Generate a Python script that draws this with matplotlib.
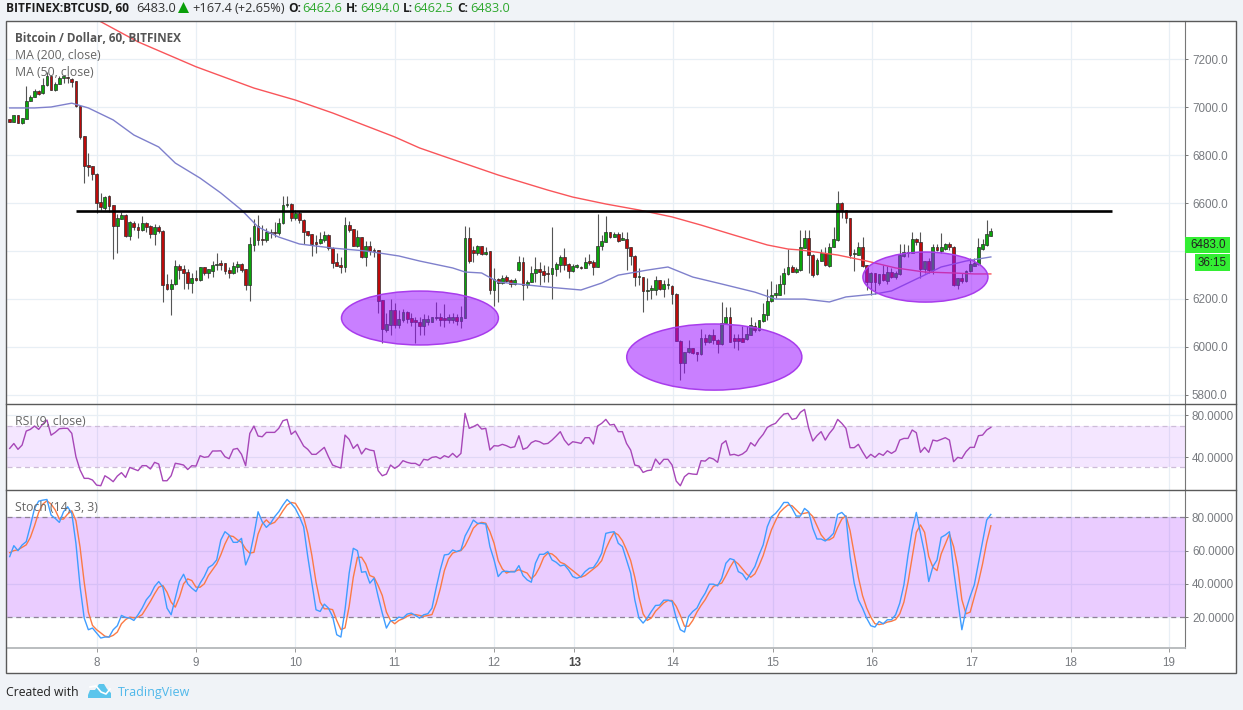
import matplotlib
matplotlib.use('Agg')
from matplotlib import pyplot as plt
from matplotlib.colors import to_rgba
from matplotlib.patches import Ellipse, Polygon, Rectangle

plt.rcParams['font.family'] = ['Open Sans', 'DejaVu Sans']

# hourly candles
candle_open = [
    6949, 6939, 6966, 6935, 6952, 7026, 7044, 7069, 7058, 7091,
    7130, 7071, 7097, 7124, 7125, 7119, 7109, 7005, 6879, 6757,
    6754, 6723, 6604, 6579, 6629, 6590, 6505, 6534, 6552, 6463,
    6517, 6502, 6488, 6516, 6503, 6472, 6498, 6485, 6260, 6241,
    6260, 6339, 6323, 6312, 6267, 6283, 6278, 6331, 6310, 6316,
    6342, 6348, 6348, 6320, 6306, 6331, 6344, 6323, 6257, 6424,
    6504, 6447, 6445, 6475, 6476, 6473, 6515, 6590, 6598, 6537,
    6557, 6531, 6483, 6469, 6434, 6434, 6445, 6466, 6413, 6353,
    6341, 6332, 6508, 6490, 6422, 6457, 6376, 6422, 6403, 6404,
    6195, 6070, 6091, 6153, 6091, 6112, 6146, 6119, 6107, 6105,
    6087, 6102, 6105, 6120, 6123, 6121, 6110, 6112, 6125, 6109,
    6121, 6453, 6403, 6390, 6419, 6387, 6398, 6237, 6281, 6266,
    6290, 6280, 6262, 6321, 6353, 6258, 6272, 6307, 6323, 6316,
    6307, 6304, 6325, 6341, 6373, 6346, 6316, 6335, 6332, 6330,
    6355, 6353, 6334, 6422, 6439, 6478, 6460, 6470, 6447, 6449,
    6415, 6380, 6290, 6290, 6234, 6239, 6237, 6277, 6241, 6256,
    6254, 6221, 6025, 5933, 5977, 5993, 5977, 5969, 6035, 6021,
    6047, 6030, 6011, 6100, 6125, 6035, 6035, 6035, 6032, 6050,
    6086, 6069, 6106, 6131, 6189, 6218, 6218, 6261, 6303, 6334,
    6312, 6320, 6413, 6452, 6385, 6303, 6358, 6392, 6338, 6417,
    6445, 6602, 6570, 6536, 6386, 6385, 6415, 6340, 6271, 6306,
    6268, 6303, 6275, 6314, 6292, 6303, 6380, 6392, 6392, 6451,
    6438, 6323, 6356, 6320, 6415, 6401, 6410, 6427, 6417, 6257,
    6285, 6275, 6316, 6339, 6345, 6410, 6424, 6462.6]
candle_high = [
    6951, 6968, 6968, 6953, 7088, 7053, 7078, 7071, 7120, 7145,
    7132, 7106, 7130, 7130, 7130, 7124, 7111, 7007, 6881, 6807,
    6756, 6725, 6640, 6629, 6632, 6592, 6556, 6563, 6554, 6526,
    6526, 6515, 6545, 6522, 6508, 6512, 6508, 6487, 6302, 6281,
    6362, 6345, 6341, 6323, 6309, 6320, 6333, 6333, 6325, 6359,
    6390, 6364, 6350, 6331, 6355, 6359, 6350, 6325, 6459, 6532,
    6550, 6508, 6494, 6490, 6522, 6536, 6629, 6630, 6600, 6570,
    6568, 6533, 6485, 6471, 6466, 6480, 6484, 6470, 6415, 6390,
    6376, 6540, 6526, 6492, 6487, 6460, 6443, 6443, 6414, 6406,
    6197, 6139, 6198, 6181, 6153, 6156, 6148, 6139, 6125, 6125,
    6137, 6133, 6125, 6188, 6139, 6178, 6137, 6142, 6137, 6171,
    6504, 6499, 6421, 6425, 6421, 6415, 6400, 6327, 6286, 6299,
    6300, 6282, 6286, 6380, 6376, 6279, 6339, 6373, 6355, 6341,
    6339, 6502, 6355, 6383, 6411, 6348, 6344, 6344, 6339, 6376,
    6386, 6362, 6553, 6467, 6546, 6480, 6481, 6478, 6481, 6481,
    6417, 6382, 6327, 6292, 6286, 6258, 6297, 6279, 6279, 6289,
    6257, 6223, 6027, 5980, 6028, 5995, 5979, 6076, 6055, 6055,
    6076, 6032, 6185, 6167, 6167, 6055, 6053, 6086, 6086, 6125,
    6104, 6113, 6181, 6243, 6275, 6264, 6299, 6330, 6410, 6341,
    6331, 6487, 6487, 6487, 6387, 6369, 6410, 6417, 6434, 6500,
    6650, 6604, 6572, 6538, 6410, 6438, 6459, 6342, 6313, 6308,
    6305, 6341, 6337, 6327, 6317, 6429, 6429, 6424, 6480, 6453,
    6480, 6356, 6369, 6431, 6431, 6473, 6434, 6438, 6419, 6289,
    6306, 6320, 6369, 6369, 6452, 6448, 6529, 6494]
candle_low = [
    6937, 6937, 6933, 6928, 6950, 7024, 7042, 7053, 7056, 7089,
    7072, 7069, 7095, 7102, 7102, 7085, 7003, 6868, 6684, 6712,
    6696, 6559, 6570, 6570, 6563, 6367, 6391, 6532, 6459, 6444,
    6487, 6455, 6484, 6480, 6455, 6424, 6473, 6188, 6235, 6132,
    6258, 6281, 6241, 6243, 6225, 6274, 6276, 6299, 6285, 6292,
    6320, 6320, 6303, 6288, 6304, 6313, 6313, 6236, 6190, 6399,
    6424, 6424, 6438, 6455, 6459, 6466, 6512, 6584, 6526, 6529,
    6515, 6431, 6462, 6378, 6390, 6431, 6438, 6406, 6327, 6336,
    6309, 6313, 6481, 6420, 6418, 6369, 6337, 6383, 6376, 6139,
    6017, 6063, 6049, 6077, 6077, 6105, 6098, 6087, 6014, 6049,
    6049, 6091, 6103, 6112, 6087, 6084, 6098, 6101, 6091, 6077,
    6119, 6348, 6355, 6383, 6383, 6385, 6219, 6170, 6188, 6261,
    6269, 6251, 6258, 6318, 6195, 6244, 6269, 6272, 6258, 6272,
    6272, 6199, 6297, 6314, 6320, 6289, 6314, 6327, 6323, 6327,
    6341, 6300, 6332, 6404, 6437, 6453, 6458, 6439, 6444, 6321,
    6341, 6254, 6258, 6144, 6195, 6199, 6216, 6237, 6209, 6243,
    6177, 6023, 5863, 5891, 5972, 5970, 5941, 5967, 6007, 6014,
    6011, 5975, 6009, 6098, 6019, 5993, 5986, 6019, 6028, 6048,
    6062, 6067, 6104, 6111, 6187, 6202, 6216, 6222, 6301, 6311,
    6310, 6318, 6411, 6306, 6292, 6299, 6356, 6337, 6332, 6415,
    6443, 6536, 6515, 6369, 6317, 6383, 6334, 6236, 6215, 6222,
    6257, 6276, 6264, 6285, 6281, 6301, 6376, 6376, 6390, 6424,
    6289, 6306, 6306, 6302, 6400, 6392, 6406, 6406, 6255, 6241,
    6267, 6271, 6314, 6337, 6343, 6406, 6422, 6462.5]
candle_close = [
    6939, 6966, 6935, 6953, 7027, 7044, 7069, 7055, 7091, 7130,
    7074, 7099, 7124, 7125, 7121, 7106, 7005, 6874, 6754, 6751,
    6721, 6601, 6584, 6627, 6587, 6505, 6536, 6552, 6462, 6520,
    6499, 6488, 6515, 6501, 6472, 6499, 6483, 6257, 6240, 6263,
    6339, 6320, 6306, 6267, 6285, 6280, 6331, 6310, 6323, 6342,
    6345, 6341, 6316, 6306, 6339, 6344, 6320, 6257, 6427, 6504,
    6445, 6444, 6479, 6473, 6475, 6515, 6590, 6598, 6538, 6557,
    6529, 6480, 6466, 6429, 6431, 6448, 6466, 6413, 6350, 6339,
    6332, 6508, 6487, 6422, 6457, 6376, 6422, 6401, 6401, 6192,
    6073, 6094, 6153, 6091, 6114, 6146, 6114, 6105, 6105, 6087,
    6114, 6114, 6123, 6122, 6112, 6110, 6123, 6125, 6109, 6123,
    6453, 6358, 6391, 6419, 6387, 6397, 6237, 6281, 6265, 6289,
    6276, 6262, 6280, 6353, 6258, 6272, 6307, 6323, 6314, 6300,
    6303, 6328, 6346, 6373, 6341, 6316, 6337, 6336, 6330, 6355,
    6351, 6333, 6422, 6442, 6478, 6460, 6470, 6443, 6450, 6414,
    6379, 6291, 6292, 6233, 6237, 6242, 6277, 6241, 6261, 6259,
    6220, 6025, 5933, 5980, 5993, 5972, 5969, 6037, 6021, 6047,
    6028, 6012, 6100, 6125, 6021, 6022, 6023, 6021, 6053, 6089,
    6069, 6111, 6136, 6192, 6218, 6221, 6264, 6306, 6334, 6313,
    6323, 6415, 6452, 6383, 6299, 6362, 6392, 6341, 6417, 6448,
    6602, 6570, 6536, 6385, 6387, 6415, 6337, 6271, 6306, 6271,
    6303, 6278, 6314, 6292, 6306, 6383, 6394, 6395, 6451, 6438,
    6323, 6356, 6320, 6415, 6406, 6415, 6427, 6415, 6257, 6285,
    6274, 6317, 6345, 6348, 6417, 6427, 6470, 6483]

# moving averages, only the bends
ma200_bars = [22, 31, 45, 59, 69, 78, 93, 99, 104, 118, 130, 136, 144, 152, 160, 167, 175,
              183, 188, 191, 200, 207, 214, 221, 228, 233, 237]
ma200_vals = [7357, 7273, 7169, 7080, 7030, 6976, 6876, 6830, 6800, 6717, 6654, 6625, 6596,
              6571, 6542, 6508, 6466, 6425, 6408, 6404, 6383, 6358, 6329, 6312, 6308, 6304, 6304]
ma50_bars = [0, 6, 10, 15, 19, 25, 30, 36, 40, 46, 51, 56, 60, 65, 70, 78, 86, 94, 99, 107, 110,
             114, 118, 125, 130, 138, 143, 147, 154, 159, 165, 172, 180, 185, 192, 198, 202,
             209, 213, 220, 225, 231, 237]
ma50_vals = [6997, 6997, 7001, 7017, 6997, 6947, 6884, 6834, 6767, 6704, 6642, 6571, 6500, 6458,
             6429, 6412, 6400, 6379, 6358, 6329, 6312, 6308, 6270, 6258, 6249, 6237, 6266, 6299,
             6320, 6333, 6291, 6262, 6228, 6199, 6199, 6187, 6208, 6220, 6233, 6291, 6333, 6358, 6375]

rsi_vals = [
    48.3, 53, 47.4, 51.5, 65, 66.6, 69.8, 66.6, 71.7, 75.6,
    61, 63.7, 67.2, 67.6, 67.6, 62.8, 40.3, 27.5, 19.5, 19.5,
    17.9, 13, 12.4, 22, 19.5, 16.3, 21.7, 25, 20.4, 30,
    28.5, 26.9, 31.7, 31.7, 28.5, 34.9, 33.3, 17.2, 17.2, 22,
    34, 33.3, 32.3, 28, 31.7, 31.3, 41.3, 39.7, 40.3, 45.8,
    45.8, 46, 40.3, 38.4, 47.4, 48.3, 42.6, 31.7, 62.7, 69.8,
    60.2, 59.5, 63.7, 63.7, 63.7, 67.6, 74.9, 76.2, 61.8, 65,
    57.9, 50.6, 47.4, 42.6, 42.6, 46, 49.3, 40.3, 32.3, 30.7,
    29.4, 61.1, 57, 48.3, 52.2, 42.9, 48.3, 46.7, 46, 26.9,
    22, 23.6, 32.3, 29.1, 31.7, 36.5, 34.9, 33.9, 33.9, 31.7,
    37.8, 37.1, 39.7, 40.3, 38.4, 41.3, 39.7, 43.5, 39.7, 43.5,
    82, 67.6, 69.2, 71.4, 66.9, 67.6, 46.7, 50.9, 50.6, 52.2,
    50.9, 49, 49.9, 60.5, 47.4, 49, 53.8, 55.7, 54.7, 52.5,
    53.1, 56.3, 60.2, 64.4, 56.3, 51.5, 54.7, 54, 53.1, 58.6,
    58.6, 52.5, 69.8, 72.4, 76.2, 70.8, 71.4, 64.4, 64.4, 53.1,
    46.7, 32.3, 31.3, 25.2, 26.9, 27.5, 38.1, 33, 37.8, 37.8,
    32.3, 16.9, 12.4, 21.1, 24.3, 23.6, 23.3, 36.5, 36.1, 39.4,
    38.1, 34.9, 52.5, 55.7, 41.9, 42.6, 41.3, 42.9, 46, 53.8,
    50.6, 57, 61.8, 68.5, 70.8, 72.4, 77.2, 81.3, 82, 76.2,
    77.2, 83, 85.8, 67.6, 55.4, 60.5, 64.4, 56.3, 62.7, 67.6,
    76.2, 72.4, 67.6, 49, 49, 52.2, 45.1, 38.7, 42.6, 39.7,
    43.5, 41.6, 46, 43.5, 46, 56.3, 57.9, 57.9, 66, 63.4,
    44.5, 49.3, 44.5, 56.3, 55.4, 57, 58.6, 56.3, 35.5, 39.7,
    38.7, 45.1, 49.3, 49.3, 60.5, 61.1, 66, 68.5]

stoch_k = [
    56.4, 63, 60, 63.4, 65.4, 75, 85.4, 89.8, 90.4, 90.8,
    81.4, 79.4, 77, 83.4, 86.4, 82.4, 64.4, 38.4, 19.4, 12.4,
    13.4, 10.4, 7.4, 8, 8, 12.4, 14.8, 21, 19.8, 19.4,
    18, 21.4, 25.4, 30.4, 33.4, 38.4, 41.4, 38, 25.4, 21.4,
    31.4, 41.4, 45.8, 40, 37.4, 35.4, 40.4, 44.4, 49.8, 51.4,
    54.4, 66.4, 71.4, 69.4, 65, 65, 67.4, 51.4, 57.4, 69.4,
    83.4, 77.4, 74, 76.4, 80.4, 83.4, 87.4, 90.8, 88.4, 85.4,
    80.4, 74.4, 56.4, 40.4, 24.4, 23.4, 27.8, 25.4, 20.4, 9.4,
    8, 24.4, 46.4, 61.4, 60, 47, 47.4, 40.4, 43.4, 32.4,
    22.4, 13.4, 17.8, 18, 20, 19.4, 21.8, 22.4, 21, 19.4,
    21.4, 22, 25.4, 37.4, 48.4, 57.4, 57.8, 60.4, 59.4, 60.4,
    68.8, 73.4, 78.4, 76.4, 76.4, 76, 62.4, 54.4, 44.4, 47.4,
    47.6, 47.2, 47.2, 51, 45, 42.4, 41, 52.4, 57.8, 57.8,
    59.4, 54.4, 53, 50.8, 51.4, 48.4, 44.4, 43.4, 44.4, 47.4,
    49.4, 49.8, 53.4, 58.4, 70.4, 71, 71.4, 64.4, 62.4, 54.4,
    46.4, 30.4, 19.4, 16.4, 19.4, 23.4, 27, 27.2, 30.2, 30.2,
    29.4, 19.4, 12.4, 11, 20.4, 23.4, 25.4, 30.4, 34.4, 39.8,
    39.8, 38.8, 43.4, 52.4, 55.2, 54.4, 47.4, 46, 42.4, 46.4,
    50.4, 57.4, 63.4, 74.4, 80.4, 82.4, 85.4, 89, 89, 85.4,
    80.8, 80.8, 85.4, 83.4, 73.4, 67, 67, 65.8, 67.8, 70.4,
    81.8, 83, 80.4, 56.4, 40.4, 30.4, 25.4, 19.4, 14.8, 14,
    17.4, 16, 18.4, 18.4, 21.4, 28.4, 39.4, 57.4, 72.4, 83,
    70.4, 58.4, 41.4, 50.4, 54.4, 68, 69.4, 71.4, 48.4, 30.4,
    12.4, 24.4, 32.4, 39.4, 52.4, 65.4, 78.4, 81.8]
stoch_d = [
    58.8, 60, 60.5, 62, 63.5, 68, 75, 83, 88, 90,
    88, 84.5, 79, 79, 82, 84, 78, 62, 41, 23,
    15, 12.4, 10.5, 8.5, 8, 9, 11, 16, 18.5, 20,
    19.5, 20, 21.5, 25.5, 29.5, 34, 38, 39, 35, 29,
    26, 32, 40, 43, 42, 38, 38, 40, 45, 48.5,
    52, 57.5, 64, 69, 68.5, 66.5, 65, 61, 58.5, 59,
    70, 76, 78.5, 76, 77, 80, 84, 87.5, 89, 88.5,
    84.5, 80, 70.5, 57, 41, 29, 25, 25, 24.5, 18,
    12.5, 13.5, 26.5, 44, 56, 56, 52, 45, 44, 39,
    33, 23, 18, 16, 18, 19, 20.5, 21.5, 21.5, 21,
    20.5, 21, 21.5, 28, 37, 48, 55, 58.5, 59.5, 60,
    63, 68, 73.5, 76, 77, 76.5, 71.5, 64.5, 54, 49,
    46.5, 47.5, 47.5, 48.5, 47.5, 46.5, 43, 45.5, 50, 56,
    58.5, 58, 56, 53, 52, 50, 48, 46, 44, 45,
    47, 49, 51, 54, 61, 66.5, 71, 69.5, 66, 60.5,
    54, 44, 32, 22, 18, 19.5, 23.5, 26, 28.5, 30,
    30, 26.5, 21, 14.5, 14.5, 18, 23, 27, 30.5, 35,
    38.5, 39.5, 40.5, 45, 50, 54, 52, 49, 46, 44,
    46, 51, 57, 65, 72.5, 78, 83, 85.5, 87.5, 87,
    84.5, 82, 82.5, 83, 80.5, 75, 69.5, 66.5, 66.5, 68,
    74, 79, 81, 72, 58, 44, 33, 25.5, 20, 16,
    15.5, 16, 17, 17.5, 18.5, 22, 29, 41, 56, 71,
    75.5, 71, 56.5, 50, 48, 58, 64, 70, 62.5, 50,
    30.5, 22, 23, 32, 41, 52, 65, 75]

price_ticks = [5800, 6000, 6200, 6400, 6600, 6800, 7000, 7200]
price_tick_labels = ['5800.0', '6000.0', '6200.0', '', '6600.0', '6800.0', '7000.0', '7200.0']
rsi_ticks = [40, 80]
stoch_ticks = [20, 40, 60, 80]
# bar positions of the day labels (the 12th to 13th gap is shorter in the original)
day_ticks = [21, 45, 69, 93, 117, 136.4, 160.2, 184.3, 208.3, 232.3, 256.3, 280]
day_labels = ['8', '9', '10', '11', '12', '13', '14', '15', '16', '17', '18', '19']

resistance_level = 6565

W, H = 1243, 710
GRID = '#e8eff5'
UP = '#0aa50a'
DOWN = '#bd0a0a'
PURPLE = '#9c12ff'
LABEL = '#787b80'


def panel_axes(fig, top, bottom, ylim):
    ax = fig.add_axes([6.5 / W, 1 - bottom / H, (1185 - 6.5) / W, (bottom - top) / H], zorder=2)
    ax.set_xlim(-0.77, 283.9)
    ax.set_ylim(*ylim)
    ax.patch.set_alpha(0)
    for side in ['left', 'top', 'bottom']:
        ax.spines[side].set_visible(False)
    ax.spines['right'].set_color('#777777')
    ax.yaxis.tick_right()
    ax.set_xticks(day_ticks)
    ax.tick_params(axis='y', colors='#777777', labelcolor=LABEL, length=2.4, width=0.7, labelsize=8.4, pad=2.6)
    ax.tick_params(axis='x', bottom=False, labelbottom=False)
    ax.grid(color=GRID, linewidth=0.9, zorder=0)
    ax.set_axisbelow(True)
    return ax


def draw_candles(ax):
    bars = range(len(candle_open))
    colors = [UP if c >= o else DOWN for o, c in zip(candle_open, candle_close)]
    ax.vlines(bars, candle_low, candle_high, color='#555555', linewidth=0.8, zorder=3)
    heights = [max(abs(c - o), 5) for o, c in zip(candle_open, candle_close)]
    bottoms = [min(o, c) for o, c in zip(candle_open, candle_close)]
    ax.bar(bars, heights, bottom=bottoms, width=0.68, color=colors, edgecolor='#2b2b2b',
           linewidth=0.5, zorder=4)


def draw_circle(ax, bar, price, bar_width, price_height):
    ax.add_patch(Ellipse((bar, price), bar_width, price_height, facecolor=to_rgba(PURPLE, 0.54),
                         edgecolor='#a83cec', linewidth=1.1, zorder=6))


def main():
    fig = plt.figure(figsize=(W / 100, H / 100), dpi=100, facecolor='#f0f3f7')

    # white chart area goes under the panels, frame and texts over them
    back = fig.add_axes([0, 0, 1, 1], zorder=0)
    back.set_xlim(0, W)
    back.set_ylim(H, 0)
    back.axis('off')
    back.add_patch(Rectangle((6.5, 21), 1236 - 6.5, 673 - 21, facecolor='white', edgecolor='none'))

    ax_price = panel_axes(fig, 21, 404, (5761, 7360))
    ax_rsi = panel_axes(fig, 404, 490, (8.3, 91))
    ax_stoch = panel_axes(fig, 490, 648, (1.4, 96.5))

    ax_price.set_yticks(price_ticks, price_tick_labels)
    draw_candles(ax_price)
    ax_price.plot(ma50_bars, ma50_vals, color='#7f80cc', linewidth=1.0, zorder=5)
    ax_price.plot(ma200_bars, ma200_vals, color='#f9555a', linewidth=1.0, zorder=5)
    draw_circle(ax_price, 99.1, 6120, 37.9, 225)
    draw_circle(ax_price, 170.2, 5957, 42.3, 276)
    draw_circle(ax_price, 221.2, 6291, 30.2, 209)
    ax_price.plot([16, 266.3], [resistance_level, resistance_level], color='black', linewidth=1.9,
                  solid_capstyle='butt', zorder=7)

    ax_rsi.set_yticks(rsi_ticks, ['40.0000', '80.0000'])
    ax_rsi.axhspan(30, 70, facecolor=PURPLE, alpha=0.10, linewidth=0, zorder=1)
    for level in [30, 70]:
        ax_rsi.axhline(level, color='#cdbcd8', linewidth=0.9, linestyle=(0, (4, 3)), zorder=2)
    ax_rsi.plot(range(len(rsi_vals)), rsi_vals, color='#a747b8', linewidth=1.0, zorder=4)

    ax_stoch.set_yticks(stoch_ticks, ['20.0000', '40.0000', '60.0000', '80.0000'])
    ax_stoch.axhspan(20, 80, facecolor=PURPLE, alpha=0.21, linewidth=0, zorder=1)
    for level in [20, 80]:
        ax_stoch.axhline(level, color='#8d8296', linewidth=0.9, linestyle=(0, (4, 3)), zorder=2)
    ax_stoch.plot(range(len(stoch_d)), stoch_d, color='#fb7a45', linewidth=1.0, zorder=4)
    ax_stoch.plot(range(len(stoch_k)), stoch_k, color='#3f9dff', linewidth=1.0, zorder=5)

    ax_stoch.spines['bottom'].set_visible(True)
    ax_stoch.spines['bottom'].set_color('#b4b7ba')
    ax_stoch.spines['bottom'].set_linewidth(1.3)
    ax_stoch.tick_params(axis='x', bottom=True, labelbottom=True, colors='#999999', labelcolor=LABEL,
                         length=3, width=0.7, labelsize=8.4, pad=3.5)
    ax_stoch.set_xticklabels(day_labels)
    bold_label = ax_stoch.get_xticklabels()[5]
    bold_label.set_fontweight('bold')
    bold_label.set_color('#4a4a4a')

    for ax in [ax_price, ax_rsi, ax_stoch]:
        for label in ax.get_yticklabels() + ax.get_xticklabels():
            label.set_family(['Liberation Sans', 'DejaVu Sans'])

    top = fig.add_axes([0, 0, 1, 1], zorder=5)
    top.set_xlim(0, W)
    top.set_ylim(H, 0)
    top.axis('off')
    top.patch.set_alpha(0)
    top.add_patch(Rectangle((6.5, 21), 1236 - 6.5, 673 - 21, fill=False, edgecolor='#5a5a5a', linewidth=1.0))
    top.plot([6.5, 1236], [404, 404], color='#5a5a5a', linewidth=1.0)
    top.plot([6.5, 1236], [490, 490], color='#5a5a5a', linewidth=1.0)

    # header strip
    green = '#2ea82e'
    header = [(6, 'BITFINEX:BTCUSD, 60', '#1c1c1c', 'bold', 8.6), (136, '6483.0', '#333333', 'normal', 9.2),
              (192, '+167.4', '#333333', 'normal', 9.2), (235, '(+2.65%)', '#333333', 'normal', 9.2),
              (288, 'O:', '#1c1c1c', 'bold', 8.6), (302, '6462.6', green, 'normal', 9.2),
              (346, 'H:', '#1c1c1c', 'bold', 8.6), (360, '6494.0', green, 'normal', 9.2),
              (403, 'L:', '#1c1c1c', 'bold', 8.6), (413, '6462.5', green, 'normal', 9.2),
              (457, 'C:', '#1c1c1c', 'bold', 8.6), (470, '6483.0', green, 'normal', 9.2)]
    for x, text, color, weight, size in header:
        top.text(x, 8, text, color=color, fontweight=weight, fontsize=size, ha='left', va='center')
    top.add_patch(Polygon([(178, 13), (189, 13), (183.5, 2)], facecolor='#0a9f0a', edgecolor='none'))

    # indicator titles
    top.text(15, 38.5, 'Bitcoin / Dollar, 60, BITFINEX', color='#555555', fontweight='bold',
             fontsize=8.5, ha='left', va='center')
    top.text(15, 55.5, 'MA (200, close)', color='#666666', fontsize=8.8, ha='left', va='center')
    top.text(15, 72.5, 'MA (50, close)', color='#666666', fontsize=8.8, ha='left', va='center')
    top.text(15, 421.5, 'RSI (9, close)', color='#666666', fontsize=8.8, ha='left', va='center')
    top.text(15, 507.5, 'Stoch (14, 3, 3)', color='#666666', fontsize=8.8, ha='left', va='center')

    # last price and countdown tags
    top.add_patch(Rectangle((1185, 236.5), 45, 16, facecolor='#33ee33', edgecolor='none'))
    top.add_patch(Rectangle((1195, 254), 35, 17, facecolor='#33ee33', edgecolor='none'))
    top.text(1208.5, 245, '6483.0', color='#222222', fontsize=8.4, ha='center', va='center',
             family=['Liberation Sans', 'DejaVu Sans'])
    top.text(1212.5, 262.5, '36:15', color='#222222', fontsize=8.4, ha='center', va='center',
             family=['Liberation Sans', 'DejaVu Sans'])

    # footer with logo
    top.text(6, 692.5, 'Created with', color='#222222', fontsize=8.8, ha='left', va='center')
    top.text(118, 692.5, 'TradingView', color='#4fb8ea', fontsize=9.0, ha='left', va='center')
    top.add_patch(Polygon([(88, 695), (90, 690), (95, 690), (99, 684), (104, 684), (107, 689), (111, 693),
                           (111, 698), (88, 698)], facecolor='#5bc5ec', edgecolor='none'))
    top.plot([90, 96, 101, 106, 110], [687, 686, 692, 694, 689], color='white', linewidth=1.2)

    fig.savefig('out.png', dpi=100, facecolor=fig.get_facecolor())


if __name__ == '__main__':
    main()
